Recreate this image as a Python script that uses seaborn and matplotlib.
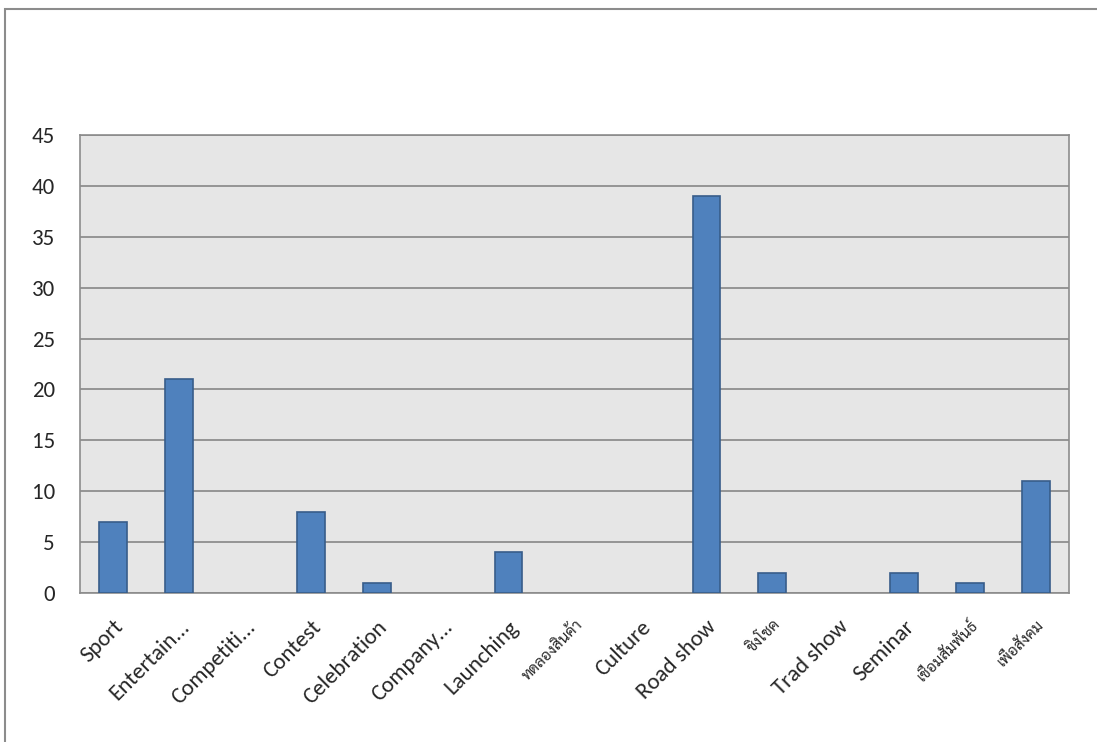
import matplotlib
matplotlib.use("Agg")
import matplotlib.pyplot as plt
import seaborn as sns
import pandas as pd
from matplotlib.patches import Rectangle

categories = ["Sport", "Entertain...", "Competiti...", "Contest", "Celebration",
              "Company...", "Launching", "ทดลองสินค้า", "Culture", "Road show",
              "ชิงโชค", "Trad show", "Seminar", "เชื่อมสัมพันธ์", "เพื่อสังคม"]
values = [7, 21, 0, 8, 1, 0, 4, 0, 0, 39, 2, 0, 2, 1, 11]
yticks = [0, 5, 10, 15, 20, 25, 30, 35, 40, 45]

sns.set_style("white")
plt.rcParams['font.family'] = ['Carlito', 'Lato', 'Open Sans', 'DejaVu Sans']
thai_family = ['Sarabun', 'Noto Sans Thai', 'Athiti']

df = pd.DataFrame({"cat": categories, "val": values})

fig = plt.figure(figsize=(10.97, 7.42), dpi=100)
ax = fig.add_axes([80/1097, 1-593/742, (1069-80)/1097, (593-135)/742])
ax.set_facecolor("#E6E6E6")

sns.barplot(data=df, x="cat", y="val", ax=ax, color="#4F81BD", width=0.42,
            edgecolor="#385D8A", linewidth=1.2, saturation=1, zorder=3)
for p in ax.patches:
    if p.get_height() == 0:
        p.set_linewidth(0)

ax.set_ylim(0, 45)
ax.set_yticks(yticks)
ax.set_yticklabels([str(t) for t in yticks], fontsize=16.5)
ax.yaxis.grid(True, color="#878787", linewidth=1.2, zorder=0)
ax.set_axisbelow(True)
ax.set_xlabel("")
ax.set_ylabel("")
ax.tick_params(axis="y", length=0, pad=18)
ax.tick_params(axis="x", length=0, pad=17)
ax.set_xlim(-0.5, len(categories) - 0.5)

thai = {"ทดลองสินค้า", "ชิงโชค", "เชื่อมสัมพันธ์", "เพื่อสังคม"}
ax.set_xticks(range(len(categories)))
ax.set_xticklabels(categories)
for lab in ax.get_xticklabels():
    lab.set_rotation(45)
    lab.set_ha("right")
    lab.set_rotation_mode("anchor")
    if lab.get_text() in thai:
        lab.set_family(thai_family)
        lab.set_fontsize(11)
    else:
        lab.set_fontsize(16.5)

for s in ["top", "bottom", "left", "right"]:
    ax.spines[s].set_visible(True)
    ax.spines[s].set_color("#8C8C8C")
    ax.spines[s].set_linewidth(1.2)

fig.patches.append(Rectangle((5/1097, -0.1), 1.2, 1-9/742 + 0.1,
                             transform=fig.transFigure, fill=False,
                             edgecolor="#8C8C8C", linewidth=1.5))

fig.savefig("out.png", dpi=100)
